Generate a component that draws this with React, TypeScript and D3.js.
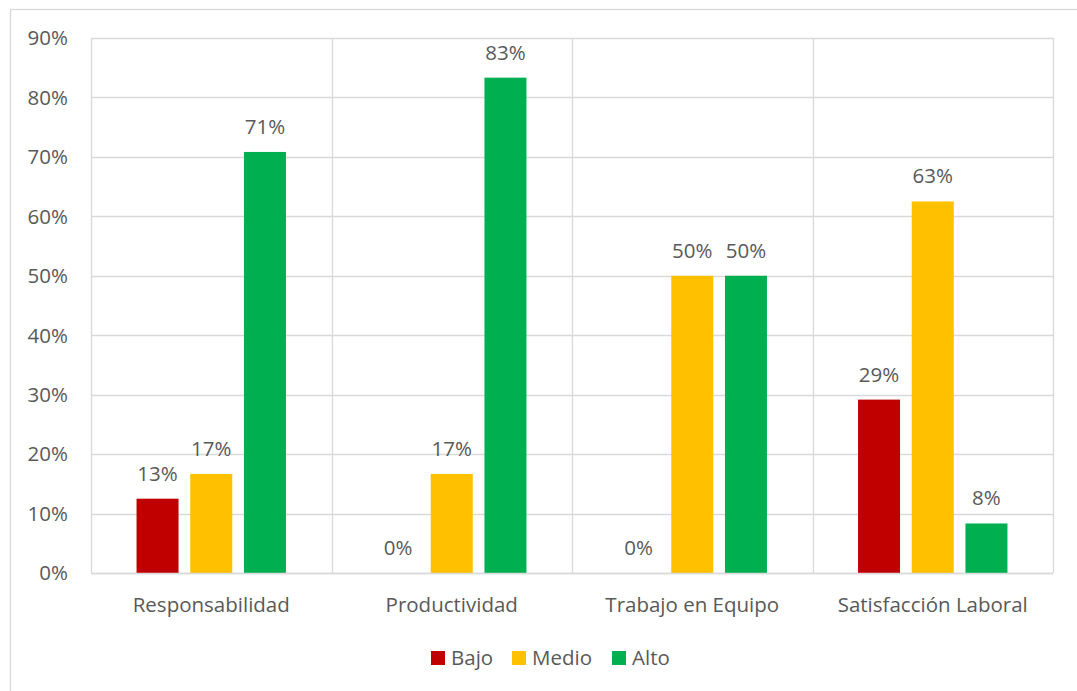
import React from "react";
import * as d3 from "d3";

const categories = ["Responsabilidad", "Productividad", "Trabajo en Equipo", "Satisfacción Laboral"];
const seriesNames = ["Bajo", "Medio", "Alto"];
const bajo = [0.125, 0, 0, 0.2917];
const medio = [0.1667, 0.1667, 0.5, 0.625];
const alto = [0.7083, 0.8333, 0.5, 0.0833];
const seriesValues = [bajo, medio, alto];
const colors = ["#C00000", "#FFC000", "#00B050"];
const yTicks = [0, 0.1, 0.2, 0.3, 0.4, 0.5, 0.6, 0.7, 0.8, 0.9];

const W = 1077, H = 691;
const plot = { left: 91, right: 1053, top: 38, bottom: 573 };
const FONT = "'Open Sans', sans-serif";
const FS = 20.5;
const TXT = "#595959";
const GRID = "#d9d9d9";

export default function App() {
  const x = d3.scaleBand<string>().domain(categories).range([plot.left, plot.right]).paddingInner(0).paddingOuter(0);
  const x1 = d3.scaleBand<string>().domain(seriesNames).range([0, x.bandwidth()]).paddingInner(0.218).paddingOuter(0.848);
  const y = d3.scaleLinear().domain([0, 0.9]).range([plot.bottom, plot.top]);
  const fmt = d3.format(".0%");

  return (
    <svg width={W} height={H} style={{ position: "absolute", left: 0, top: 0, background: "#fff" }} fontFamily={FONT}>
      <rect x={10.5} y={9.5} width={1100} height={720} fill="#fff" stroke={GRID} strokeWidth={1.3} />
      {yTicks.map((t) => (
        <g key={t}>
          <line x1={plot.left} x2={plot.right} y1={Math.round(y(t)) + 0.5} y2={Math.round(y(t)) + 0.5} stroke={GRID} strokeWidth={1.3} />
          <text x={68} y={y(t)} dy="0.36em" textAnchor="end" fontSize={FS} fill={TXT}>{fmt(t)}</text>
        </g>
      ))}
      {categories.map((c) => (
        <line key={"v" + c} x1={Math.round(x(c)!) + 0.5} x2={Math.round(x(c)!) + 0.5} y1={plot.top} y2={plot.bottom} stroke={GRID} strokeWidth={1.3} />
      ))}
      <line x1={plot.right + 0.5} x2={plot.right + 0.5} y1={plot.top} y2={plot.bottom} stroke={GRID} strokeWidth={1.3} />
      {categories.map((c, ci) => (
        <g key={c}>
          {seriesNames.map((s, si) => {
            const v = seriesValues[si][ci];
            const bx = x(c)! + x1(s)!;
            return (
              <g key={s}>
                {v > 0 && (
                  <rect x={bx} y={y(v)} width={x1.bandwidth()} height={plot.bottom - y(v)} fill={colors[si]} />
                )}
                <text x={bx + x1.bandwidth() / 2} y={y(v) - 18} textAnchor="middle" fontSize={FS} fill={TXT}>{fmt(v)}</text>
              </g>
            );
          })}
          <text x={x(c)! + x.bandwidth() / 2} y={612} textAnchor="middle" fontSize={FS} fill={TXT}>{c}</text>
        </g>
      ))}
      <line x1={plot.left} x2={plot.right} y1={plot.bottom + 0.5} y2={plot.bottom + 0.5} stroke={GRID} strokeWidth={1.5} />
      {seriesNames.map((s, i) => {
        const lx = [431, 512, 612][i];
        return (
          <g key={"lg" + s}>
            <rect x={lx} y={651} width={14} height={14} fill={colors[i]} />
            <text x={lx + 20} y={665} fontSize={FS} fill={TXT}>{s}</text>
          </g>
        );
      })}
    </svg>
  );
}
